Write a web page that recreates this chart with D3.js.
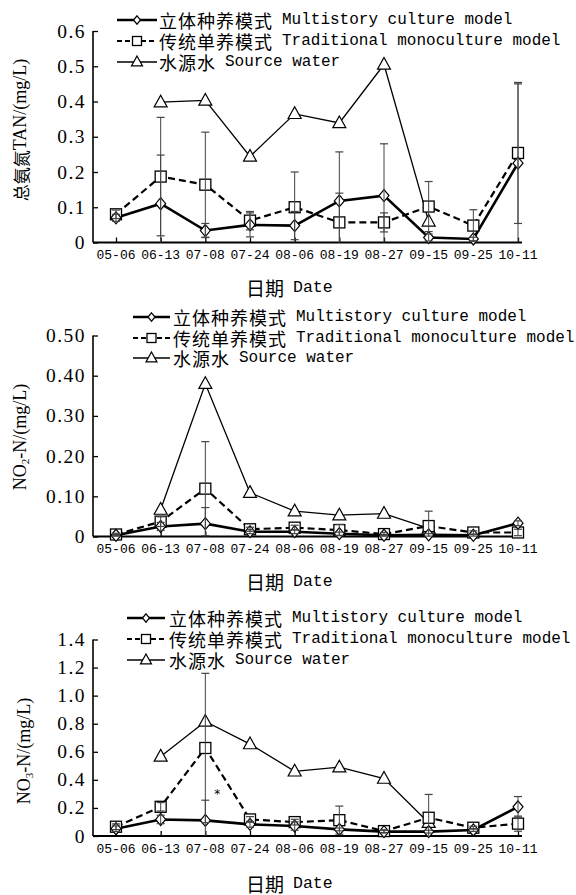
<!DOCTYPE html>
<html><head><meta charset="utf-8">
<script src="https://cdn.jsdelivr.net/npm/d3@7"></script>
<style>body{margin:0;background:#fff}svg{display:block}</style>
</head><body>
<script>
const dates = ["05-06","06-13","07-08","07-24","08-06","08-19","08-27","09-15","09-25","10-11"];
const seriesNames = [
  ["立体种养模式","Multistory culture model"],
  ["传统单养模式","Traditional monoculture model"],
  ["水源水","Source water"]
];
// Panel 1: TAN
const tanMulti = [0.07,0.11,0.034,0.05,0.048,0.118,0.133,0.014,0.01,0.225];
const tanMultiSd = [0.01,0.138,0.02,0.034,0.04,0.139,0.147,0.01,0.005,0.225];
const tanTrad = [0.08,0.187,0.164,0.062,0.10,0.057,0.057,0.102,0.048,0.254];
const tanTradSd = [0.012,0.168,0.149,0.026,0.10,0.083,0.027,0.071,0.045,0.2];
const tanSource = [null,0.398,0.403,0.244,0.365,0.339,0.505,0.06,null,null];
const tanTicks = ["0","0.1","0.2","0.3","0.4","0.5","0.6"];
// Panel 2: NO2-N
const no2Multi = [0.003,0.025,0.032,0.012,0.012,0.007,0.003,0.004,0.003,0.033];
const no2MultiSd = [0.002,0.01,0.04,0.005,0.005,0.004,0.002,0.003,0.002,0.006];
const no2Trad = [0.005,0.037,0.119,0.018,0.022,0.016,0.006,0.026,0.01,0.01];
const no2TradSd = [0.003,0.012,0.117,0.005,0.006,0.014,0.004,0.037,0.004,0.008];
const no2Source = [null,0.067,0.38,0.109,0.063,0.053,0.057,0.02,null,null];
const no2Ticks = ["0","0.10","0.20","0.30","0.40","0.50"];
// Panel 3: NO3-N
const no3Multi = [0.052,0.118,0.111,0.083,0.071,0.047,0.031,0.031,0.043,0.208];
const no3MultiSd = [0.02,0.03,0.144,0.02,0.03,0.01,0.01,0.01,0.01,0.073];
const no3Trad = [0.066,0.208,0.627,0.118,0.099,0.113,0.035,0.13,0.059,0.088];
const no3TradSd = [0.02,0.03,0.532,0.02,0.02,0.1,0.01,0.166,0.01,0.054];
const no3Source = [null,0.567,0.816,0.655,0.461,0.49,0.409,0.095,null,null];
const no3Ticks = ["0","0.2","0.4","0.6","0.8","1.0","1.2","1.4"];

const W=576,H=895;
const svg=d3.select("body").append("svg").attr("width",W).attr("height",H);
const CJK="'Noto Sans CJK SC',sans-serif";
const MONO="'Liberation Mono',monospace";
const SERIF="'Liberation Serif',serif";

const x=d3.scalePoint().domain(dates).range([116,518]);

function marker(g,type,cx,cy,s){
  if(type==="d"){
    g.append("path").attr("d",`M${cx},${cy-s*0.6}L${cx+s*0.5},${cy}L${cx},${cy+s*0.6}L${cx-s*0.5},${cy}Z`)
     .attr("fill","#fff").attr("stroke","#000").attr("stroke-width",1.2);
  } else if(type==="s"){
    g.append("rect").attr("x",cx-s/2).attr("y",cy-s/2).attr("width",s).attr("height",s)
     .attr("fill","#fff").attr("stroke","#000").attr("stroke-width",1.3);
  } else {
    const h=s*0.9;
    g.append("path").attr("d",`M${cx},${cy-h*0.6}L${cx+s/2},${cy+h*0.4}L${cx-s/2},${cy+h*0.4}Z`)
     .attr("fill","#fff").attr("stroke","#000").attr("stroke-width",1.2);
  }
}

function panel(cfg){
  const y=d3.scaleLinear().domain([0,cfg.max]).range([cfg.y0,cfg.y1]);
  const g=svg.append("g");
  const yAxis=d3.axisRight(y).tickValues(cfg.ticks.map(Number)).tickSize(5).tickFormat("");
  const ya=g.append("g").attr("transform","translate(93,0)").call(yAxis);
  ya.select(".domain").attr("d",`M0,${cfg.y1}V${cfg.y0}`).attr("stroke-width",1.6);
  ya.selectAll(".tick line").attr("stroke-width",1.3);
  g.selectAll(".ylab").data(cfg.ticks).join("text")
    .attr("x",86).attr("y",d=>y(+d)).attr("text-anchor","end").attr("dominant-baseline","central")
    .attr("font-family",SERIF).attr("font-size",19.5).attr("letter-spacing",1.5).attr("fill","#000").text(d=>d);
  const xAxis=d3.axisTop(x).tickSize(5).tickFormat("");
  const xa=g.append("g").attr("transform",`translate(0,${cfg.y0})`).call(xAxis);
  xa.select(".domain").attr("d","M93,0H522").attr("stroke-width",2);
  xa.selectAll(".tick line").attr("stroke-width",1.3);
  g.selectAll(".xlab").data(dates).join("text")
    .attr("x",d=>x(d)).attr("y",cfg.y0+13).attr("text-anchor","middle").attr("dominant-baseline","central")
    .attr("font-family",MONO).attr("font-size",13).attr("fill","#000").text(d=>d);
  const xt=g.append("text").attr("x",246).attr("y",cfg.xt).attr("dominant-baseline","central").attr("fill","#000");
  xt.append("tspan").attr("font-family",CJK).attr("font-size",19).text("日期");
  xt.append("tspan").attr("dx",9).attr("font-family",MONO).attr("font-size",16.5).text("Date");
  const yt=g.append("text").attr("transform",`translate(${cfg.ytx},${cfg.ytY}) rotate(-90)`)
    .attr("text-anchor","middle").attr("dominant-baseline","central").attr("font-size",17).attr("fill","#000");
  cfg.yTitle(yt);

  const ser=[
    {v:cfg.multi,sd:cfg.multiSd,m:"d",w:2.6,dash:null,ms:10},
    {v:cfg.trad,sd:cfg.tradSd,m:"s",w:2.2,dash:"7,4",ms:11},
    {v:cfg.source,sd:null,m:"t",w:1.3,dash:null,ms:13}
  ];
  const line=d3.line().defined(d=>d[1]!=null).x(d=>x(d[0])).y(d=>y(d[1]));
  [2,1,0].forEach(i=>{
    const s=ser[i];
    g.append("path").attr("d",line(dates.map((d,j)=>[d,s.v[j]]))).attr("fill","none")
      .attr("stroke","#000").attr("stroke-width",s.w).attr("stroke-dasharray",s.dash);
  });
  [2,1,0].forEach(i=>{
    const s=ser[i];
    dates.forEach((d,j)=>{ if(s.v[j]!=null) marker(g,s.m,x(d),y(s.v[j]),s.ms); });
  });
  [0,1].forEach(i=>{
    const s=ser[i];
    dates.forEach((d,j)=>{
      const hi=s.v[j]+s.sd[j], lo=Math.max(0,s.v[j]-s.sd[j]);
      const cx=x(d);
      g.append("line").attr("x1",cx).attr("x2",cx).attr("y1",y(hi)).attr("y2",y(lo)).attr("stroke","#444").attr("stroke-width",1);
      g.append("line").attr("x1",cx-4).attr("x2",cx+4).attr("y1",y(hi)).attr("y2",y(hi)).attr("stroke","#444").attr("stroke-width",1.2);
      if(s.v[j]-s.sd[j]>0) g.append("line").attr("x1",cx-4).attr("x2",cx+4).attr("y1",y(lo)).attr("y2",y(lo)).attr("stroke","#444").attr("stroke-width",1.2);
    });
  });
  const L=cfg.leg;
  ser.forEach((s,i)=>{
    const ly=L.rows[i];
    g.append("line").attr("x1",L.x0).attr("x2",L.x1).attr("y1",ly).attr("y2",ly)
      .attr("stroke","#000").attr("stroke-width",s.w).attr("stroke-dasharray",s.dash?"5,3":null);
    marker(g,s.m,(L.x0+L.x1)/2,ly,[7,9,11][i]);
    const t=g.append("text").attr("x",L.tx).attr("y",ly).attr("dominant-baseline","central").attr("fill","#000");
    t.append("tspan").attr("font-family",CJK).attr("font-size",18).attr("letter-spacing",1).text(seriesNames[i][0]);
    t.append("tspan").attr("dx",L.gap).attr("font-family",MONO).attr("font-size",16).text(seriesNames[i][1]);
  });
  return {g,y};
}

panel({max:0.6,y0:242.5,y1:31,ticks:tanTicks,multi:tanMulti,multiSd:tanMultiSd,trad:tanTrad,tradSd:tanTradSd,source:tanSource,
  xt:287,ytx:20,ytY:130,
  yTitle:t=>{t.append("tspan").attr("font-family",CJK).text("总氨氮");t.append("tspan").attr("font-family",SERIF).attr("font-size",18).text("TAN/(mg/L)");},
  leg:{x0:117,x1:157,tx:159,gap:9,rows:[20,41,62]}});

panel({max:0.5,y0:536.5,y1:335.5,ticks:no2Ticks,multi:no2Multi,multiSd:no2MultiSd,trad:no2Trad,tradSd:no2TradSd,source:no2Source,
  xt:581,ytx:20,ytY:437,
  yTitle:t=>{t.attr("font-family",SERIF).attr("font-size",18);t.append("tspan").text("NO");t.append("tspan").attr("font-size",11).attr("dy",5).text("2");t.append("tspan").attr("dy",-5).text("-N/(mg/L)");},
  leg:{x0:133,x1:170,tx:173,gap:9,rows:[317,338,358]}});

const p3=panel({max:1.4,y0:836,y1:639.5,ticks:no3Ticks,multi:no3Multi,multiSd:no3MultiSd,trad:no3Trad,tradSd:no3TradSd,source:no3Source,
  xt:883,ytx:24,ytY:751,
  yTitle:t=>{t.attr("font-family",SERIF).attr("font-size",18);t.append("tspan").text("NO");t.append("tspan").attr("font-size",11).attr("dy",5).text("3");t.append("tspan").attr("dy",-5).text("-N/(mg/L)");},
  leg:{x0:127,x1:165,tx:169,gap:9,rows:[618,639,660]}});
p3.g.append("text").attr("x",x("07-08")+9).attr("y",p3.y(0.3)).attr("dominant-baseline","central")
  .attr("font-family","'DejaVu Sans',sans-serif").attr("font-size",12).attr("fill","#000").text("*");
</script>
</body></html>
